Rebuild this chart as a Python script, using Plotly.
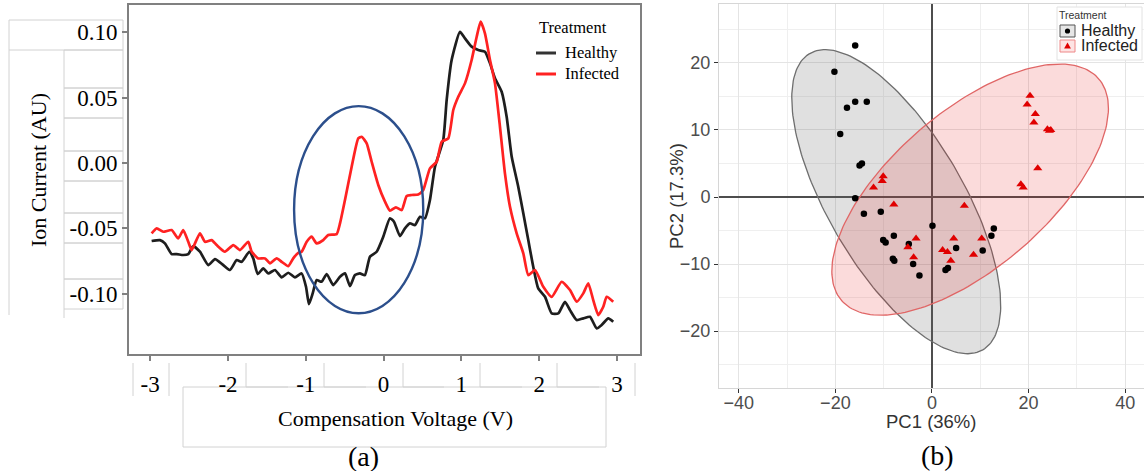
import numpy as np
import plotly.graph_objects as go

W, H = 1144, 471

# ---------------- (a) ion current vs compensation voltage ----------------
cv_healthy = [-2.981, -2.874, -2.810, -2.724, -2.659, -2.575, -2.510, -2.446, -2.360, -2.253,
              -2.167, -2.060, -1.974, -1.888, -1.824, -1.726, -1.675, -1.618, -1.546, -1.482,
              -1.396, -1.310, -1.225, -1.139, -1.053, -0.997, -0.959, -0.911, -0.860, -0.796,
              -0.731, -0.647, -0.560, -0.496, -0.432, -0.368, -0.304, -0.240, -0.175, -0.089,
              -0.004, 0.082, 0.134, 0.211, 0.275, 0.339, 0.404, 0.468, 0.532, 0.596,
              0.661, 0.767, 0.811, 0.875, 0.982, 1.046, 1.132, 1.217, 1.303, 1.368,
              1.432, 1.518, 1.582, 1.647, 1.731, 1.796, 1.860, 1.924, 1.988, 2.075,
              2.161, 2.246, 2.332, 2.396, 2.482, 2.567, 2.653, 2.739, 2.803, 2.888, 2.952]
ion_healthy = [-0.0597, -0.0590, -0.0615, -0.0697, -0.0697, -0.0704, -0.0697, -0.0636, -0.0679, -0.0781,
               -0.0735, -0.0781, -0.0819, -0.0743, -0.0756, -0.0679, -0.0730, -0.0850, -0.0806, -0.0845,
               -0.0819, -0.0875, -0.0840, -0.0875, -0.0845, -0.0947, -0.1080, -0.0998, -0.0896, -0.0909,
               -0.0850, -0.0934, -0.0871, -0.0845, -0.0942, -0.0858, -0.0845, -0.0858, -0.0717, -0.0679,
               -0.0564, -0.0423, -0.0449, -0.0559, -0.0500, -0.0462, -0.0475, -0.0411, -0.0423, -0.0283,
               -0.0028, 0.0176, 0.0482, 0.0789, 0.1005, 0.0955, 0.0891, 0.0865, 0.0852, 0.0763,
               0.0649, 0.0546, 0.0355, 0.0048, -0.0181, -0.0385, -0.0590, -0.0794, -0.0960, -0.1024,
               -0.1151, -0.1151, -0.1062, -0.1126, -0.1202, -0.1189, -0.1177, -0.1266, -0.1240, -0.1189, -0.1215]
cv_infected = [-2.981, -2.916, -2.832, -2.724, -2.639, -2.575, -2.510, -2.467, -2.360, -2.296,
               -2.210, -2.145, -2.039, -1.932, -1.846, -1.739, -1.695, -1.611, -1.524, -1.460,
               -1.374, -1.310, -1.225, -1.161, -1.096, -1.053, -0.988, -0.924, -0.860, -0.775,
               -0.711, -0.603, -0.560, -0.496, -0.410, -0.325, -0.281, -0.217, -0.153, -0.068,
               0.018, 0.082, 0.159, 0.233, 0.297, 0.361, 0.446, 0.510, 0.596, 0.683,
               0.747, 0.832, 0.896, 0.960, 1.046, 1.132, 1.197, 1.248, 1.303, 1.368,
               1.432, 1.496, 1.560, 1.625, 1.711, 1.796, 1.860, 1.946, 2.053, 2.161,
               2.289, 2.396, 2.482, 2.567, 2.631, 2.695, 2.760, 2.824, 2.868, 2.952]
ion_infected = [-0.0538, -0.0500, -0.0526, -0.0513, -0.0577, -0.0513, -0.0603, -0.0666, -0.0538, -0.0603,
                -0.0590, -0.0628, -0.0679, -0.0628, -0.0666, -0.0603, -0.0679, -0.0730, -0.0730, -0.0768,
                -0.0730, -0.0756, -0.0789, -0.0730, -0.0687, -0.0679, -0.0603, -0.0564, -0.0615, -0.0590,
                -0.0551, -0.0544, -0.0462, -0.0283, -0.0028, 0.0189, 0.0201, 0.0151, 0.0010, -0.0168,
                -0.0296, -0.0365, -0.0339, -0.0360, -0.0253, -0.0245, -0.0240, -0.0207, -0.0041, 0.0010,
                0.0163, 0.0189, 0.0406, 0.0508, 0.0610, 0.0789, 0.0967, 0.1082, 0.0993, 0.0789,
                0.0610, 0.0278, -0.0079, -0.0335, -0.0538, -0.0691, -0.0858, -0.0819, -0.0947, -0.1024,
                -0.0909, -0.0972, -0.1062, -0.0998, -0.0921, -0.1049, -0.1164, -0.1100, -0.1024, -0.1062]
cv_ticks = [-3, -2, -1, 0, 1, 2, 3]
ion_ticks = [-0.10, -0.05, 0.00, 0.05, 0.10]
ion_tick_labels = ["-0.10", "-0.05", "0.00", "0.05", "0.10"]
roi_cv = [-1.15, 0.51]          # highlighted region (blue ellipse), x extent
roi_ion = [-0.115, 0.0436]      # y extent

# ---------------- (b) PCA scores ----------------
healthy_pc1 = [-15.9, -20.2, -15.9, -13.5, -17.6, -19.0, -15.0, -14.5, -15.9, -14.1, -10.6, -7.9, -10.1,
               -9.6, -4.8, 0.1, 12.8, 12.3, 5.0, 10.5, -8.1, -7.8, -3.9, -2.6, 2.8, 3.3]
healthy_pc2 = [22.6, 18.7, 14.2, 14.2, 13.3, 9.4, 4.7, 5.0, -0.2, -2.5, -2.2, -5.8, -6.4,
               -6.8, -7.0, -4.3, -4.7, -5.8, -7.6, -8.0, -9.2, -9.5, -10.0, -11.7, -10.9, -10.6]
infected_pc1 = [20.3, 19.7, 21.4, 21.1, 23.9, 24.3, 24.6, 21.9, 18.4, 18.9, -10.1, -10.3, -12.1, -7.9,
                6.7, -3.3, 4.5, 10.3, -5.0, -3.8, 2.2, 3.2, 3.9, 8.6]
infected_pc2 = [15.1, 13.8, 12.4, 11.1, 10.1, 9.9, 10.0, 4.3, 1.9, 1.4, 3.1, 2.4, 1.4, -1.1,
                -1.3, -6.2, -6.2, -6.2, -7.5, -9.0, -7.9, -8.2, -9.5, -8.6]
# confidence ellipses: centre, semi-axes, rotation (deg)
ell_healthy = [-7.4, -0.7, 28.75, 12.5, -47.0]
ell_infected = [7.9, 1.1, 31.7, 12.9, 28.0]
pc1_ticks = [-40, -20, 0, 20, 40]
pc2_ticks = [-20, -10, 0, 10, 20]


def ellipse_path(p, n=200):
    cx, cy, a, b, ang = p
    t = np.linspace(0, 2 * np.pi, n)
    th = np.deg2rad(ang)
    x = cx + a * np.cos(t) * np.cos(th) - b * np.sin(t) * np.sin(th)
    y = cy + a * np.cos(t) * np.sin(th) + b * np.sin(t) * np.cos(th)
    return x, y


def PX(x):
    return x / W


def PY(y):
    return 1 - y / H


fig = go.Figure()

# (a) traces
fig.add_trace(go.Scatter(x=cv_healthy, y=ion_healthy, mode="lines", name="Healthy",
                         line=dict(color="#1e1e1e", width=2.7, shape="spline", smoothing=0.5),
                         xaxis="x", yaxis="y", showlegend=False))
fig.add_trace(go.Scatter(x=cv_infected, y=ion_infected, mode="lines", name="Infected",
                         line=dict(color="#ff2222", width=2.7, shape="spline", smoothing=0.5),
                         xaxis="x", yaxis="y", showlegend=False))

# (b) ellipses
ex, ey = ellipse_path(ell_healthy)
fig.add_trace(go.Scatter(x=ex, y=ey, mode="lines", fill="toself", fillcolor="rgba(110,110,110,0.21)",
                         line=dict(color="#6e6e6e", width=1.3), xaxis="x2", yaxis="y2",
                         showlegend=False, hoverinfo="skip"))
ex, ey = ellipse_path(ell_infected)
fig.add_trace(go.Scatter(x=ex, y=ey, mode="lines", fill="toself", fillcolor="rgba(230,30,30,0.16)",
                         line=dict(color="#e06666", width=1.3), xaxis="x2", yaxis="y2",
                         showlegend=False, hoverinfo="skip"))
# (b) points
fig.add_trace(go.Scatter(x=healthy_pc1, y=healthy_pc2, mode="markers", name="Healthy",
                         marker=dict(symbol="circle", size=6.5, color="black"),
                         xaxis="x2", yaxis="y2", showlegend=False))
fig.add_trace(go.Scatter(x=infected_pc1, y=infected_pc2, mode="markers", name="Infected",
                         marker=dict(symbol="triangle-up", size=8, color="#e00000"),
                         xaxis="x2", yaxis="y2", showlegend=False))

serif = "Liberation Serif"
sans = "Liberation Sans"

layout = dict(
    width=W, height=H, margin=dict(l=0, r=0, t=0, b=0),
    paper_bgcolor="white", plot_bgcolor="white",
    xaxis=dict(domain=[129 / W, 640 / W], range=[-3.272, 3.296], tickvals=cv_ticks,
               ticktext=[str(v) for v in cv_ticks], ticks="outside", ticklen=5, tickwidth=1.5,
               tickcolor="#808080", showline=True, mirror=True, linecolor="#808080", linewidth=2,
               showgrid=False, zeroline=False, anchor="y", ticklabelstandoff=3,
               tickfont=dict(family=serif, size=23, color="black")),
    yaxis=dict(domain=[1 - 354 / H, 1 - 5 / H], range=[-0.1462, 0.1210], tickvals=ion_ticks,
               ticktext=ion_tick_labels, ticks="outside", ticklen=5, tickwidth=1.5,
               tickcolor="#808080", showline=True, mirror=True, linecolor="#808080", linewidth=2,
               showgrid=False, zeroline=False, anchor="x",
               tickfont=dict(family=serif, size=23, color="black")),
    xaxis2=dict(domain=[719 / W, 1.0], range=[-44.1, 43.9], tickvals=pc1_ticks,
                ticks="outside", ticklen=4, tickcolor="#333333", showline=True, mirror=True,
                linecolor="#d6d6d6", linewidth=1, showgrid=True, gridcolor="#e4e4e4", gridwidth=1,
                minor=dict(dtick=10, tick0=0, showgrid=True, gridcolor="#efefef", ticks=""),
                zeroline=True, zerolinecolor="#4d4d4d", zerolinewidth=1.5, anchor="y2",
                ticklabelstandoff=-6,
                tickfont=dict(family=sans, size=18, color="#4d4d4d")),
    yaxis2=dict(domain=[1 - 388 / H, 1 - 4 / H], range=[-28.5, 28.8], tickvals=pc2_ticks,
                ticks="outside", ticklen=4, tickcolor="#333333", showline=True, mirror=True,
                linecolor="#d6d6d6", linewidth=1, showgrid=True, gridcolor="#e4e4e4", gridwidth=1,
                minor=dict(dtick=5, tick0=0, showgrid=True, gridcolor="#efefef", ticks=""),
                zeroline=True, zerolinecolor="#4d4d4d", zerolinewidth=1.5, anchor="x2",
                tickfont=dict(family=sans, size=18, color="#4d4d4d")),
)
fig.update_layout(**layout)

shapes = []
# blue ellipse highlighting region in (a)
shapes.append(dict(type="circle", xref="x", yref="y", x0=roi_cv[0], x1=roi_cv[1],
                   y0=roi_ion[0], y1=roi_ion[1], line=dict(color="#2c4f8c", width=2.4)))

# light text-box outlines (figure assembly artefacts)
box = dict(color="#d2d2d2", width=1)


def rect(x0, y0, x1, y1):
    shapes.append(dict(type="rect", xref="paper", yref="paper", x0=PX(x0), x1=PX(x1),
                       y0=PY(y1), y1=PY(y0), line=box, layer="below"))


def seg(x0, y0, x1, y1):
    shapes.append(dict(type="line", xref="paper", yref="paper", x0=PX(x0), x1=PX(x1),
                       y0=PY(y0), y1=PY(y1), line=box, layer="below"))


rect(9, 20, 123, 50)
seg(9, 50, 9, 315)
for y0, y1 in [(50, 88), (88, 118), (118, 151), (151, 181), (181, 213), (213, 243), (243, 279), (279, 309)]:
    rect(64, y0, 123, y1)
seg(64, 309, 64, 318)
seg(133, 363, 133, 396)
seg(169, 363, 169, 396)
seg(635, 363, 635, 396)
for x0, x1 in [(246, 288), (324, 366), (403, 444), (480, 522), (557, 599)]:
    seg(x0, 363, x0, 387)
    seg(x0, 387, x1, 387)
rect(183, 387, 606, 447)

# legend (a)
shapes.append(dict(type="line", xref="paper", yref="paper", x0=PX(536), x1=PX(556), y0=PY(53), y1=PY(53),
                   line=dict(color="#333333", width=3)))
shapes.append(dict(type="line", xref="paper", yref="paper", x0=PX(536), x1=PX(556), y0=PY(74), y1=PY(74),
                   line=dict(color="#ff2222", width=3)))
# legend (b)
shapes.append(dict(type="rect", xref="paper", yref="paper", x0=PX(1057), x1=PX(1142), y0=PY(60), y1=PY(7),
                   line=dict(color="#e2e2e2", width=1), fillcolor="white"))
shapes.append(dict(type="rect", xref="paper", yref="paper", x0=PX(1060), x1=PX(1075), y0=PY(37), y1=PY(25),
                   line=dict(color="#555555", width=1), fillcolor="#e6e6e6"))
shapes.append(dict(type="rect", xref="paper", yref="paper", x0=PX(1060), x1=PX(1075), y0=PY(52), y1=PY(40),
                   line=dict(color="#ee8888", width=1), fillcolor="#fde4e4"))
shapes.append(dict(type="circle", xref="paper", yref="paper", xsizemode="pixel", ysizemode="pixel",
                   xanchor=PX(1067.5), yanchor=PY(31), x0=-2.6, x1=2.6, y0=-2.6, y1=2.6,
                   fillcolor="black", line=dict(width=0)))
shapes.append(dict(type="path", xref="paper", yref="paper", xsizemode="pixel", ysizemode="pixel",
                   xanchor=PX(1067.5), yanchor=PY(46), path="M -3.4,-2.6 L 3.4,-2.6 L 0,3.4 Z",
                   fillcolor="#e00000", line=dict(width=0)))
fig.update_layout(shapes=shapes)

ann = []


def text(s, x, y, size, family, color="black", angle=0, xanchor="center"):
    ann.append(dict(text=s, x=PX(x), y=PY(y), xref="paper", yref="paper", showarrow=False,
                    textangle=angle, xanchor=xanchor, yanchor="middle",
                    font=dict(family=family, size=size, color=color)))


text("Ion Current (AU)", 39, 170, 22, serif, angle=-90)
text("Compensation Voltage (V)", 395, 418, 22, serif)
text("(a)", 363, 456, 28, serif)
text("(b)", 937, 455, 28, serif)
text("Treatment", 573, 28, 16.5, serif)
text("Healthy", 563, 53, 16.5, serif, xanchor="left")
text("Infected", 563, 74, 16.5, serif, xanchor="left")
text("PC1 (36%)", 931, 421, 18.5, sans, color="#333333")
text("PC2 (17.3%)", 676, 196, 18.5, sans, color="#333333", angle=-90)
text("Treatment", 1057, 15, 10.5, sans, color="#333333", xanchor="left")
text("Healthy", 1079, 31, 16, sans, color="#222222", xanchor="left")
text("Infected", 1079, 46, 16, sans, color="#222222", xanchor="left")
fig.update_layout(annotations=ann)

fig.write_html("out.html", config={"displayModeBar": False},
               post_script="document.body.style.margin='0px';")
